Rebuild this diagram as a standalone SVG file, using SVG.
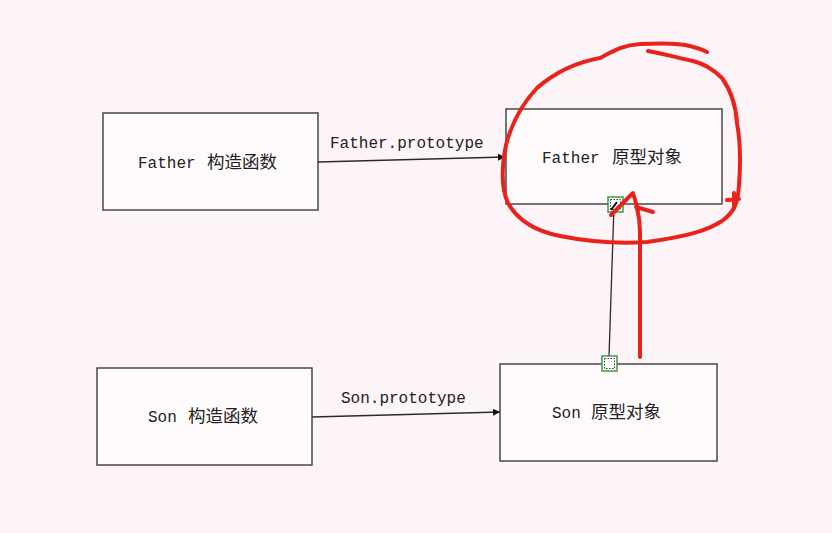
<svg xmlns="http://www.w3.org/2000/svg" width="832" height="533" viewBox="0 0 832 533">
<style>
.box{fill:#fffbfc;stroke:#3c3c3c;stroke-width:1.4}
.t{font-family:"Liberation Mono","Noto Sans CJK SC",monospace;font-size:16px;fill:#222}
.cjk{font-family:"Noto Sans CJK SC","Liberation Sans",sans-serif;font-size:17.5px}
.conn{fill:none;stroke:#2a2a2a;stroke-width:1.3}
.red{fill:none;stroke:#e8231b;stroke-width:4;stroke-linecap:round;stroke-linejoin:round}
.handle{fill:#fff;stroke:#3f9a45;stroke-width:1.5}
.handle-in{fill:none;stroke:#333;stroke-width:1;stroke-dasharray:1.5 1.5}
</style>
<defs>
<marker id="arr" viewBox="0 0 10 10" refX="10" refY="5" markerWidth="7" markerHeight="7" orient="auto" markerUnits="userSpaceOnUse">
<path d="M0,0 L10,5 L0,10 z" fill="#111"/>
</marker>
</defs>
<rect x="0" y="0" width="832" height="533" fill="#fdf4f7"/>

<g id="father-ctor">
<rect class="box" x="103" y="113" width="215" height="97"/>
<text class="t" x="138" y="168">Father<tspan class="cjk" x="207">构造函数</tspan></text>
</g>
<g id="father-proto">
<rect class="box" x="506" y="109" width="216" height="95"/>
<text class="t" x="542" y="163">Father<tspan class="cjk" x="612">原型对象</tspan></text>
</g>
<g id="son-ctor">
<rect class="box" x="97" y="368" width="215" height="97"/>
<text class="t" x="148" y="422">Son<tspan class="cjk" x="188">构造函数</tspan></text>
</g>
<g id="son-proto">
<rect class="box" x="500" y="364" width="217" height="97"/>
<text class="t" x="552" y="418">Son<tspan class="cjk" x="591">原型对象</tspan></text>
</g>

<g id="connectors">
<line class="conn" x1="318" y1="162" x2="505" y2="157" marker-end="url(#arr)"/>
<text class="t" x="330" y="148">Father.prototype</text>
<line class="conn" x1="312" y1="417" x2="500" y2="412" marker-end="url(#arr)"/>
<text class="t" x="341" y="403">Son.prototype</text>
<line class="conn" x1="609" y1="357" x2="614" y2="205"/>
<g id="handles">
<rect class="handle" x="608" y="197" width="15" height="15"/>
<rect class="handle-in" x="610.5" y="199.5" width="10" height="10"/>
<path d="M611,210 L617,202" stroke="#111" stroke-width="2"/>
<rect class="handle" x="602" y="356" width="15" height="15"/>
<rect class="handle-in" x="604.5" y="358.5" width="10" height="10"/>
</g>
</g>

<g id="annotation">
<path class="red" d="M648,51 C660,53 670,56 693,61 C705,64 714,70 722,78 C732,92 736,108 737,123 C740,140 741,160 739,185 C738,205 733,213 722,221 C708,230 690,236 647,242 C615,244 590,242 560,236 C535,231 518,221 508,203 C501,188 502,165 506,145 C512,122 522,104 537,88 C552,75 572,63 600,58 C615,50 624,45 640,44 C660,43 680,43 690,46 C698,48 703,50 707,52"/>
<path class="red" d="M727,200 L739,199 M734,193 L734,207"/>
<path class="red" d="M640,357 L640,232 C640,222 639,216 637,208"/>
<path class="red" d="M611,215 L633,193 L638,210 M636,207 L653,212"/>
</g>
</svg>
